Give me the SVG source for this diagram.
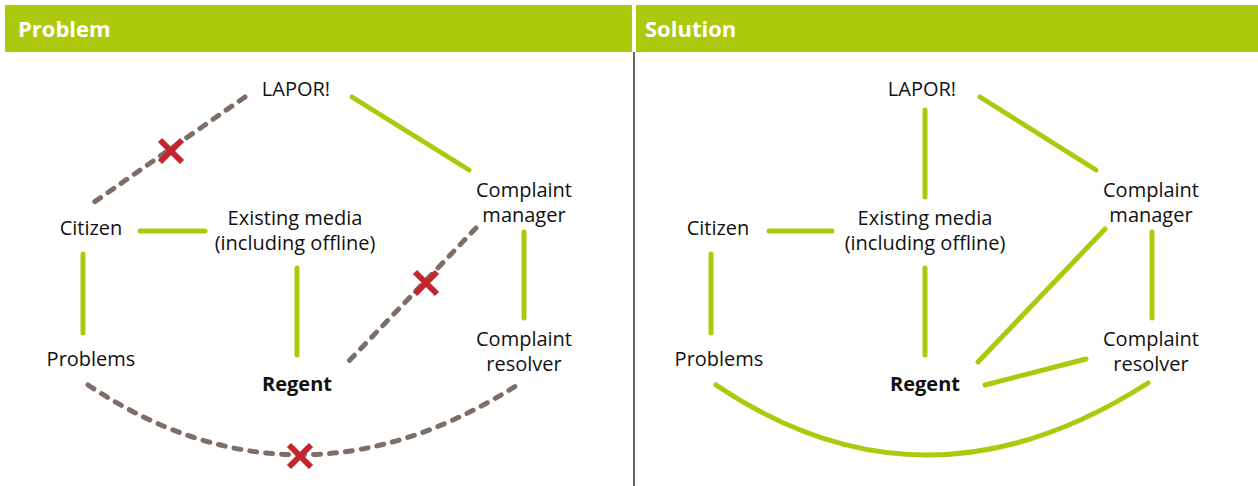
<svg xmlns="http://www.w3.org/2000/svg" width="1258" height="486" viewBox="0 0 1258 486">
<style>
.hdr{fill:#adc90e}
.ht{font-family:"Open Sans","Liberation Sans",sans-serif;font-weight:bold;font-size:22px;fill:#fff}
.t{font-family:"Open Sans","Liberation Sans",sans-serif;font-size:20px;fill:#111;text-anchor:middle}
.b{font-weight:bold}
.g{stroke:#adc90e;stroke-width:5;stroke-linecap:round;fill:none}
.d{stroke:#7d6f68;stroke-width:5;stroke-linecap:round;stroke-dasharray:7 9;fill:none}
.x{stroke:#c4262e;stroke-width:6;fill:none}
</style>
<rect width="1258" height="486" fill="#fff"/>
<rect class="hdr" x="5" y="5" width="627" height="47"/>
<rect class="hdr" x="636" y="5" width="622" height="47"/>
<line x1="634" y1="52" x2="634" y2="486" stroke="#000" stroke-width="1.2"/>
<text class="ht" x="18" y="37">Problem</text>
<text class="ht" x="645" y="37">Solution</text>

<g id="connectors-problem">
<line class="d" x1="245" y1="97" x2="90" y2="205"/>
<line class="g" x1="352" y1="97" x2="469" y2="170"/>
<line class="g" x1="140" y1="231" x2="205" y2="231"/>
<line class="g" x1="83" y1="254" x2="83" y2="333"/>
<line class="g" x1="297" y1="268" x2="297" y2="355"/>
<line class="g" x1="524" y1="232" x2="524" y2="318"/>
<line class="d" x1="476" y1="228" x2="348" y2="362"/>
<path class="d" d="M88,385 Q300,526 522,382"/>
<path class="x" d="M160,140 L182,162 M182,140 L160,162"/>
<path class="x" d="M415,272 L437,294 M437,272 L415,294"/>
<path class="x" d="M289,445 L311,467 M311,445 L289,467"/>
</g>
<g id="connectors-solution">
<line class="g" x1="925" y1="110" x2="925" y2="197"/>
<line class="g" x1="980" y1="97" x2="1096" y2="170"/>
<line class="g" x1="769" y1="231" x2="832" y2="231"/>
<line class="g" x1="711" y1="254" x2="711" y2="333"/>
<line class="g" x1="925" y1="268" x2="925" y2="355"/>
<line class="g" x1="1105" y1="229" x2="978" y2="362"/>
<line class="g" x1="1152" y1="232" x2="1152" y2="318"/>
<line class="g" x1="985" y1="385" x2="1086" y2="359"/>
<path class="g" d="M716,385 Q925,526 1148,383"/>
</g>

<g id="p-lapor"><text class="t" x="296" y="96">LAPOR!</text></g>
<g id="p-manager"><text class="t" x="524" y="197">Complaint</text><text class="t" x="524" y="222">manager</text></g>
<g id="p-citizen"><text class="t" x="91" y="235">Citizen</text></g>
<g id="p-media"><text class="t" x="295" y="225">Existing media</text><text class="t" x="295" y="250">(including offline)</text></g>
<g id="p-problems"><text class="t" x="91" y="366">Problems</text></g>
<g id="p-regent"><text class="t b" x="297" y="391">Regent</text></g>
<g id="p-resolver"><text class="t" x="524" y="346">Complaint</text><text class="t" x="524" y="371">resolver</text></g>

<g id="s-lapor"><text class="t" x="922" y="96">LAPOR!</text></g>
<g id="s-manager"><text class="t" x="1151" y="197">Complaint</text><text class="t" x="1151" y="222">manager</text></g>
<g id="s-citizen"><text class="t" x="718" y="235">Citizen</text></g>
<g id="s-media"><text class="t" x="925" y="225">Existing media</text><text class="t" x="925" y="250">(including offline)</text></g>
<g id="s-problems"><text class="t" x="719" y="366">Problems</text></g>
<g id="s-regent"><text class="t b" x="925" y="391">Regent</text></g>
<g id="s-resolver"><text class="t" x="1151" y="346">Complaint</text><text class="t" x="1151" y="371">resolver</text></g>
</svg>
